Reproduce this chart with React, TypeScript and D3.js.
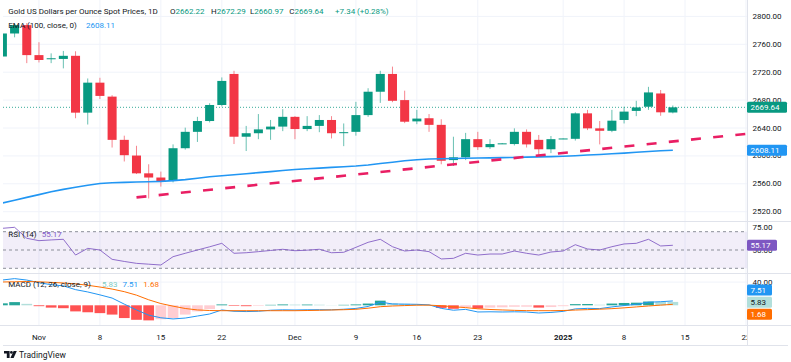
import React from 'react';
import * as d3 from 'd3';

// trading days shown on the chart
const dates = [
  '2024-10-29', '2024-10-30', '2024-10-31', '2024-11-01', '2024-11-04', '2024-11-05', '2024-11-06',
  '2024-11-07', '2024-11-08', '2024-11-11', '2024-11-12', '2024-11-13', '2024-11-14', '2024-11-15',
  '2024-11-18', '2024-11-19', '2024-11-20', '2024-11-21', '2024-11-22', '2024-11-25', '2024-11-26',
  '2024-11-27', '2024-11-28', '2024-11-29', '2024-12-02', '2024-12-03', '2024-12-04', '2024-12-05',
  '2024-12-06', '2024-12-09', '2024-12-10', '2024-12-11', '2024-12-12', '2024-12-13', '2024-12-16',
  '2024-12-17', '2024-12-18', '2024-12-19', '2024-12-20', '2024-12-23', '2024-12-24', '2024-12-25',
  '2024-12-26', '2024-12-27', '2024-12-30', '2024-12-31', '2025-01-01', '2025-01-02', '2025-01-03',
  '2025-01-06', '2025-01-07', '2025-01-08', '2025-01-09', '2025-01-10', '2025-01-13', '2025-01-14',
];
// empty space on the right of the last bar
const futureDates = ['2025-01-15', '2025-01-16', '2025-01-17', '2025-01-20', '2025-01-21', '2025-01-22'];

const open = [
  2742.5, 2775.5, 2787.5, 2744.5, 2739.5, 2739, 2743.5, 2662, 2705, 2685, 2623, 2600.5, 2575, 2569,
  2564, 2611, 2634.5, 2650, 2673, 2717.5, 2627.5, 2632.5, 2638, 2642, 2656, 2638.5, 2643, 2651.5,
  2633, 2634.5, 2658.5, 2692, 2717.5, 2680, 2649.5, 2654, 2644.5, 2594, 2598, 2624, 2612.5, 2617.5,
  2617, 2634.5, 2623, 2609.5, 2624.5, 2624.5, 2661, 2639.5, 2636, 2651.5, 2664.5, 2670.5, 2689.5, 2662.22,
];
const high = [
  2778, 2790, 2790.5, 2763, 2747, 2750.5, 2750, 2711, 2712, 2687, 2629, 2614.5, 2588, 2577.5,
  2616.5, 2640.5, 2656, 2675.5, 2712.5, 2722, 2643, 2660, 2651.5, 2667, 2657, 2657, 2658.5, 2657,
  2646.5, 2677.5, 2697, 2722, 2728, 2693.5, 2666, 2660, 2652.5, 2627.5, 2633, 2634.5, 2624, 2618.5,
  2639.5, 2638, 2630, 2628.5, 2625, 2662.5, 2666, 2650, 2666, 2670.5, 2679, 2699, 2694.5, 2672.29,
];
const low = [
  2739, 2770, 2733, 2734, 2733, 2725.5, 2654, 2645, 2681.5, 2612, 2592, 2574, 2539, 2556,
  2562, 2609, 2620, 2648, 2671, 2617, 2607, 2624, 2623, 2635.5, 2624, 2635.5, 2634, 2625,
  2614, 2629, 2656, 2676, 2677, 2647, 2645.5, 2634.5, 2588, 2585.5, 2594, 2608.5, 2610, 2617,
  2615, 2612, 2600, 2604, 2624, 2622, 2637, 2616.5, 2634, 2646.5, 2657, 2666, 2657.5, 2660.97,
];
const close = [
  2775.5, 2787.5, 2744.5, 2737.5, 2740, 2743.5, 2662, 2705, 2686, 2623, 2601, 2575, 2569, 2563,
  2611, 2634.5, 2650, 2673, 2707.5, 2627.5, 2632.5, 2638, 2642, 2656, 2638.5, 2643, 2651.5, 2632.5,
  2634, 2658.5, 2692, 2717.5, 2679, 2649, 2653.5, 2644.5, 2593, 2598, 2624, 2612.5, 2617, 2618,
  2634.5, 2616.5, 2609.5, 2624, 2625, 2661, 2639.5, 2636, 2650.5, 2663.5, 2669.5, 2691, 2662.5, 2669.64,
];
const ema100 = [
  2532.4, 2536.5, 2540.5, 2544.5, 2548.5, 2552, 2555, 2558, 2560.5, 2561.5, 2562, 2562.5, 2563, 2563.5,
  2564.5, 2566, 2568, 2570, 2571.5, 2573, 2574.5, 2576, 2577.5, 2579, 2580.5, 2581.5, 2582.5, 2583.5,
  2584.5, 2585.5, 2587, 2589, 2591, 2593, 2594.5, 2595.5, 2596, 2596.3, 2596.6, 2597, 2597.2, 2597.5,
  2597.8, 2598.2, 2598.6, 2599, 2599.5, 2600.3, 2601.2, 2602, 2603, 2604, 2605.2, 2606.3, 2607.3, 2608.11,
];
const rsi = [
  73.7, 74.8, 62.8, 60.2, 61, 61.7, 44.5, 51.8, 50, 39.8, 37.5, 35.4, 34.5, 33.6,
  42.7, 46.4, 50, 53.5, 57.3, 46.4, 47, 48.2, 49.5, 50.8, 49.2, 49.8, 50.8, 47,
  47.5, 52.9, 58.4, 61.7, 53.6, 48.9, 50, 48.2, 40.2, 40.9, 46.4, 44.5, 45.6, 45.6,
  48.9, 46.4, 44.5, 47.8, 48.9, 55.8, 51.1, 50, 53.6, 56.6, 57.3, 61.7, 54.4, 55.17,
];
const macd = [
  43.6, 46, 43.5, 39, 35.5, 33.5, 27, 23, 18, 12.5, 2, -8, -17, -21.5,
  -23.5, -22, -18.5, -15, -8, -10.3, -10.8, -10.3, -8.5, -7.8, -8.1, -7.7, -7.6, -7.8,
  -6.8, -5.4, -2, 5.6, 2.3, 2, 1.7, 0.8, -5.3, -8.5, -7, -11.5, -11.2, -11.5,
  -11.2, -11.6, -13.3, -12.3, -10.5, -6.2, -5.3, -5.7, -2.8, -0.4, 1.7, 5.3, 6.2, 7.51,
];
const signal = [
  40.2, 40.5, 41, 40.5, 39.5, 38.5, 37, 34.5, 31.5, 28, 23.5, 17.5, 9.5, 3,
  -1.5, -5.5, -8, -9, -9.3, -9.3, -9.3, -9.3, -9.3, -9.3, -9.3, -9, -8.6, -8.1,
  -7.6, -6.9, -5, -2.4, -1.2, -0.5, 0.2, 0.3, -0.8, -2.5, -4, -6, -7.2, -8,
  -8.7, -9.2, -9.3, -9.3, -9, -8.2, -7.5, -6.7, -5.8, -4.4, -2.8, -1.2, 0.3, 1.68,
];
const hist = [
  3.4, 5.5, 2.5, -1.5, -4, -5, -10.5, -12, -13.5, -16, -22, -25, -26, -24,
  -22, -16, -10.5, -6.5, 1.5, -1, -1.5, -1, 0.8, 1.5, 1.2, 1.3, 1, 0.3,
  0.8, 1.5, 3, 8, 3.5, 2.5, 1.5, 0.5, -4.5, -6, -3, -5.5, -4, -3.5,
  -2.5, -2.4, -4, -3, -1.5, 2, 2.2, 1, 3, 4, 4.5, 6.5, 5.9, 5.83,
];

const priceTicks = [2520, 2560, 2600, 2640, 2680, 2720, 2760, 2800];
const timeTicks: [string, string][] = [
  ['2024-11-01', 'Nov'], ['2024-11-08', '8'], ['2024-11-15', '15'], ['2024-11-22', '22'],
  ['2024-12-02', 'Dec'], ['2024-12-09', '9'], ['2024-12-16', '16'], ['2024-12-23', '23'],
  ['2025-01-01', '2025'], ['2025-01-08', '8'], ['2025-01-15', '15'], ['2025-01-22', '22'],
];
// hand-drawn support line (start / end anchors)
const trendLine: [string, number][] = [['2024-11-13', 2540.5], ['2025-01-22', 2631.6]];

const UP = '#089981';
const DOWN = '#F23645';
const GRID = '#f0f3fa';
const BORDER = '#e0e3eb';
const TEXT = '#131722';
const FONT = 'Roboto, "Noto Sans", sans-serif';
const PR = 747; // right edge of panes

const App = () => {
  const allDates = dates.concat(futureDates);
  const x = d3.scaleBand<string>().domain(allDates).range([-3.7, -3.7 + allDates.length * 12.19]);
  const cx = (d: string) => (x(d) ?? 0) + x.bandwidth() / 2;
  const y = d3.scaleLinear().domain([2520, 2800]).range([211.7, 16.4]);
  const yR = d3.scaleLinear().domain([30, 70]).range([268.3, 231.7]);
  const yM = d3.scaleLinear().domain([0, 40]).range([305.3, 282.1]);
  const fmt = d3.format('.2f');
  const bodyW = x.bandwidth() * 0.74;
  const histW = x.bandwidth() * 0.88;

  const emaLine = d3.line<number>().x((_, i) => cx(dates[i])).y((v) => y(v))(ema100) ?? '';
  const rsiLine = d3.line<number>().x((_, i) => cx(dates[i])).y((v) => yR(v))(rsi) ?? '';
  const macdLine = d3.line<number>().x((_, i) => cx(dates[i])).y((v) => yM(v))(macd) ?? '';
  const sigLine = d3.line<number>().x((_, i) => cx(dates[i])).y((v) => yM(v))(signal) ?? '';
  const trendPath = d3.line<[string, number]>().x((d) => cx(d[0])).y((d) => y(d[1]))(trendLine) ?? '';

  const last = close[close.length - 1];
  const histColor = (v: number, i: number) => {
    const prev = i > 0 ? hist[i - 1] : 0;
    if (v >= 0) return v >= prev ? '#26A69A' : '#B2DFDB';
    return v < prev ? '#FF5252' : '#FFCDD2';
  };

  const box = (cy: number, label: string, fill: string, w: number, color = '#fff') => (
    <g key={label}>
      <rect x={PR} y={cy - 5.5} width={w} height={11} rx={1.5} fill={fill} />
      <text x={PR + 3.5} y={cy} dominantBaseline="central" fill={color} fontSize={8}>
        {label}
      </text>
    </g>
  );

  return (
    <svg
      width={791}
      height={362}
      style={{ position: 'absolute', left: 0, top: 0, background: '#fff' }}
      fontFamily={FONT}
    >
      <defs>
        <clipPath id="cMain"><rect x={3} y={0} width={PR - 3} height={221} /></clipPath>
        <clipPath id="cRsi"><rect x={3} y={222} width={PR - 3} height={51} /></clipPath>
        <clipPath id="cMacd"><rect x={3} y={274} width={PR - 3} height={51} /></clipPath>
        <clipPath id="cTime"><rect x={0} y={0} width={PR} height={345} /></clipPath>
      </defs>

      {/* grid */}
      {timeTicks.map(([d]) => (
        <line key={'v' + d} x1={cx(d)} x2={cx(d)} y1={0} y2={325} stroke={GRID} clipPath="url(#cTime)" />
      ))}
      {priceTicks.map((p) => (
        <line key={'h' + p} x1={3} x2={PR} y1={y(p)} y2={y(p)} stroke={GRID} />
      ))}
      <line x1={3} x2={PR} y1={yM(40)} y2={yM(40)} stroke={GRID} />

      {/* main pane */}
      <g clipPath="url(#cMain)">
        <line x1={3} x2={PR} y1={y(last)} y2={y(last)} stroke={UP} strokeDasharray="1 2" opacity={0.8} />
        {dates.map((d, i) => {
          const up = close[i] >= open[i];
          const col = up ? UP : DOWN;
          const top = y(Math.max(open[i], close[i]));
          const bot = y(Math.min(open[i], close[i]));
          return (
            <g key={d}>
              <line x1={cx(d)} x2={cx(d)} y1={y(high[i])} y2={y(low[i])} stroke={col} opacity={0.6} />
              <rect x={cx(d) - bodyW / 2} y={top} width={bodyW} height={Math.max(1, bot - top)} fill={col} />
            </g>
          );
        })}
        <path d={emaLine} fill="none" stroke="#2196F3" strokeWidth={1.6} />
        <path d={trendPath} fill="none" stroke="#E91E63" strokeWidth={2.6} strokeDasharray="10 12.3" />
      </g>

      {/* RSI pane */}
      <g clipPath="url(#cRsi)">
        <rect x={3} y={yR(70)} width={PR - 3} height={yR(30) - yR(70)} fill="#7E57C2" opacity={0.1} />
        {[70, 50, 30].map((v) => (
          <line key={v} x1={3} x2={PR} y1={yR(v)} y2={yR(v)} stroke="#8c8f99" strokeDasharray="3 3" />
        ))}
        <path d={rsiLine} fill="none" stroke="#7E57C2" strokeWidth={1} opacity={0.85} />
      </g>

      {/* MACD pane */}
      <g clipPath="url(#cMacd)">
        {hist.map((v, i) => (
          <rect
            key={i}
            x={cx(dates[i]) - histW / 2}
            y={Math.min(yM(v), yM(0))}
            width={histW}
            height={Math.abs(yM(v) - yM(0))}
            fill={histColor(v, i)}
          />
        ))}
        <path d={macdLine} fill="none" stroke="#2196F3" strokeWidth={1} />
        <path d={sigLine} fill="none" stroke="#FF6D00" strokeWidth={1} />
      </g>

      {/* separators and borders */}
      <line x1={0} x2={791} y1={221.5} y2={221.5} stroke={BORDER} />
      <line x1={0} x2={791} y1={273.5} y2={273.5} stroke={BORDER} />
      <line x1={0} x2={791} y1={325.5} y2={325.5} stroke={BORDER} />
      <line x1={PR + 0.5} x2={PR + 0.5} y1={0} y2={345} stroke={BORDER} />
      <line x1={3} x2={788} y1={345.5} y2={345.5} stroke={BORDER} />

      {/* price axis */}
      {priceTicks.map((p) => (
        <text key={'t' + p} x={752.5} y={y(p)} dominantBaseline="central" fontSize={8} fill={TEXT}>
          {fmt(p)}
        </text>
      ))}
      <text x={752.5} y={yR(75)} dominantBaseline="central" fontSize={8} fill={TEXT}>{fmt(75)}</text>
      <text x={752.5} y={yR(50)} dominantBaseline="central" fontSize={8} fill={TEXT}>{fmt(50)}</text>
      <text x={752.5} y={yM(40)} dominantBaseline="central" fontSize={8} fill={TEXT}>{fmt(40)}</text>

      {box(y(last), fmt(last), UP, 40)}
      {box(y(ema100[ema100.length - 1]), fmt(ema100[ema100.length - 1]), '#2196F3', 40)}
      {box(yR(rsi[rsi.length - 1]), fmt(rsi[rsi.length - 1]), '#7E57C2', 30)}
      {box(290, fmt(macd[macd.length - 1]), '#2196F3', 25)}
      {box(302.3, fmt(hist[hist.length - 1]), '#B2DFDB', 25, TEXT)}
      {box(314.3, fmt(signal[signal.length - 1]), '#FF6D00', 25)}

      {/* time axis */}
      <g clipPath="url(#cTime)">
        {timeTicks.map(([d, label]) => (
          <text
            key={'x' + d}
            x={cx(d)}
            y={337}
            textAnchor="middle"
            dominantBaseline="central"
            fontSize={8}
            fontWeight={label === '2025' ? 700 : 400}
            fill={TEXT}
          >
            {label}
          </text>
        ))}
      </g>

      {/* legends */}
      <g fontSize={8}>
        <text x={8.3} y={14} fill={TEXT}>Gold US Dollars per Ounce Spot Prices, 1D</text>
        <text x={170} y={14} fill={TEXT}>O<tspan fill={UP}>{fmt(open[open.length - 1])}</tspan></text>
        <text x={211} y={14} fill={TEXT}>H<tspan fill={UP}>{fmt(high[high.length - 1])}</tspan></text>
        <text x={250} y={14} fill={TEXT}>L<tspan fill={UP}>{fmt(low[low.length - 1])}</tspan></text>
        <text x={289.3} y={14} fill={TEXT}>C<tspan fill={UP}>{fmt(last)}</tspan></text>
        <text x={335} y={14} fill={UP}>+7.34 (+0.28%)</text>
        <text x={8.3} y={28} fill={TEXT}>EMA (100, close, 0)</text>
        <text x={86} y={28} fill="#2196F3">{fmt(ema100[ema100.length - 1])}</text>
        <text x={8.3} y={236.5} fill={TEXT}>RSI (14)</text>
        <text x={41.7} y={236.5} fill="#7E57C2">{fmt(rsi[rsi.length - 1])}</text>
        <text x={8.3} y={287} fill={TEXT}>MACD (12, 26, close, 9)</text>
        <text x={102} y={287} fill="#80CBC4">{fmt(hist[hist.length - 1])}</text>
        <text x={122.5} y={287} fill="#2196F3">{fmt(macd[macd.length - 1])}</text>
        <text x={143.3} y={287} fill="#FF6D00">{fmt(signal[signal.length - 1])}</text>
      </g>

      {/* TradingView mark */}
      <g fill={TEXT}>
        <path d="M4 351h5.6v7h-2.8v-4.4H4z" />
        <circle cx={11.4} cy={352.4} r={1.4} />
        <path d="M13.6 351h3.2l-3.2 7h-3.2z" />
        <text x={19} y={357.6} fontSize={8.5}>TradingView</text>
      </g>
    </svg>
  );
};

export default App;
